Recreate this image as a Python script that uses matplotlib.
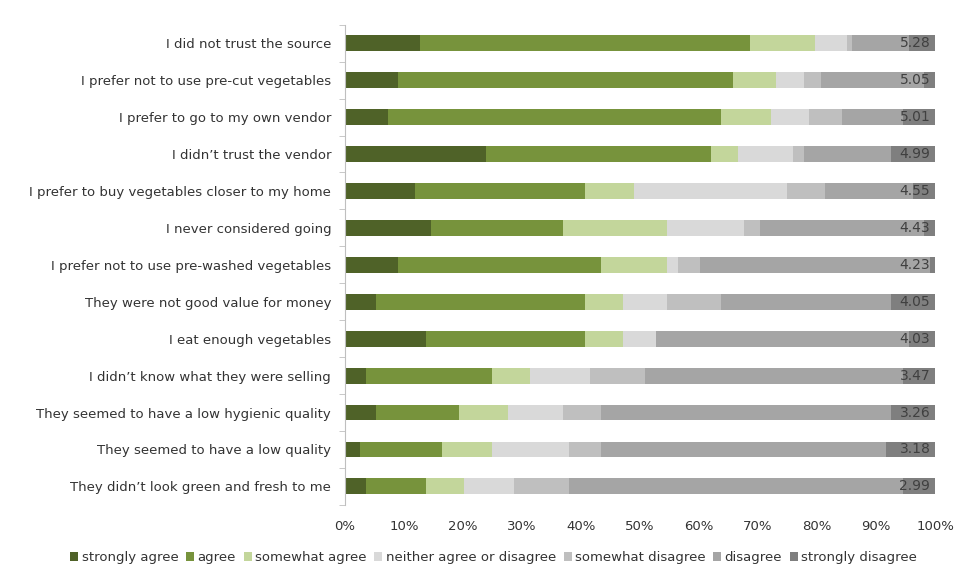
import matplotlib.pyplot as plt
import numpy as np

statements = [
    "I did not trust the source",
    "I prefer not to use pre-cut vegetables",
    "I prefer to go to my own vendor",
    "I didn\u2019t trust the vendor",
    "I prefer to buy vegetables closer to my home",
    "I never considered going",
    "I prefer not to use pre-washed vegetables",
    "They were not good value for money",
    "I eat enough vegetables",
    "I didn\u2019t know what they were selling",
    "They seemed to have a low hygienic quality",
    "They seemed to have a low quality",
    "They didn\u2019t look green and fresh to me",
]
means = ["5.28", "5.05", "5.01", "4.99", "4.55", "4.43", "4.23",
         "4.05", "4.03", "3.47", "3.26", "3.18", "2.99"]

answers = ["strongly agree", "agree", "somewhat agree", "neither agree or disagree",
           "somewhat disagree", "disagree", "strongly disagree"]

# percent per answer, one list per answer, rows in the order of statements
strongly_agree = [12.7, 9.0, 7.3, 23.9, 11.8, 14.6, 9.0, 5.3, 13.7, 3.5, 5.3, 2.6, 3.5]
agree = [55.9, 56.7, 56.5, 38.1, 28.9, 22.4, 34.4, 35.4, 27.0, 21.4, 14.0, 13.9, 10.3]
somewhat_agree = [11.1, 7.4, 8.4, 4.6, 8.2, 17.6, 11.2, 6.4, 6.4, 6.5, 8.3, 8.4, 6.4]
neither = [5.4, 4.7, 6.4, 9.3, 26.0, 13.0, 1.8, 7.5, 5.6, 10.1, 9.4, 13.0, 8.5]
somewhat_disagree = [0.9, 2.8, 5.6, 1.9, 6.5, 2.7, 3.7, 9.1, 0.0, 9.4, 6.4, 5.5, 9.2]
disagree = [9.5, 17.6, 10.4, 14.7, 14.8, 27.9, 39.0, 28.8, 42.8, 43.6, 49.1, 48.2, 56.6]
strongly_disagree = [4.5, 1.8, 5.4, 7.5, 3.8, 1.8, 0.9, 7.5, 4.5, 5.5, 7.5, 8.4, 5.5]

colors = ["#4f6228", "#77933c", "#c3d69b", "#d9d9d9", "#bfbfbf", "#a5a5a5", "#7f7f7f"]

series = [strongly_agree, agree, somewhat_agree, neither,
          somewhat_disagree, disagree, strongly_disagree]

fig = plt.figure(figsize=(9.72, 5.75), dpi=100)
ax = fig.add_axes([0.355, 0.122, 0.607, 0.835])

y = np.arange(len(statements))
left = np.zeros(len(statements))
for vals, name, c in zip(series, answers, colors):
    vals = np.array(vals)
    ax.barh(y, vals, left=left, height=0.43, color=c, label=name)
    left = left + vals

for i, m in enumerate(means):
    ax.text(99.2, i, m, ha="right", va="center", fontsize=10, color="#404040")

ax.set_xlim(0, 100)
ax.set_ylim(len(statements) - 0.5, -0.5)
ax.set_yticks(y)
ax.set_yticklabels(statements, fontsize=9.5, color="#333333")
ax.set_yticks(np.arange(len(statements) + 1) - 0.5, minor=True)
ax.tick_params(axis="y", which="major", length=0, pad=10)
ax.tick_params(axis="y", which="minor", length=4, color="#bfbfbf", direction="out")
ax.set_xticks(np.arange(0, 101, 10))
ax.set_xticklabels(["{}%".format(v) for v in range(0, 101, 10)], fontsize=9.5, color="#333333")
ax.tick_params(axis="x", length=0, pad=11)

for s in ["top", "right", "bottom"]:
    ax.spines[s].set_visible(False)
ax.spines["left"].set_color("#bfbfbf")

ax.legend(loc="center", bbox_to_anchor=(0.508, 0.03), bbox_transform=fig.transFigure,
          ncol=7, frameon=False, fontsize=9.5, handlelength=0.6, handleheight=0.6,
          handletextpad=0.25, columnspacing=0.6, labelcolor="#333333")

plt.savefig("out.png", dpi=100)
